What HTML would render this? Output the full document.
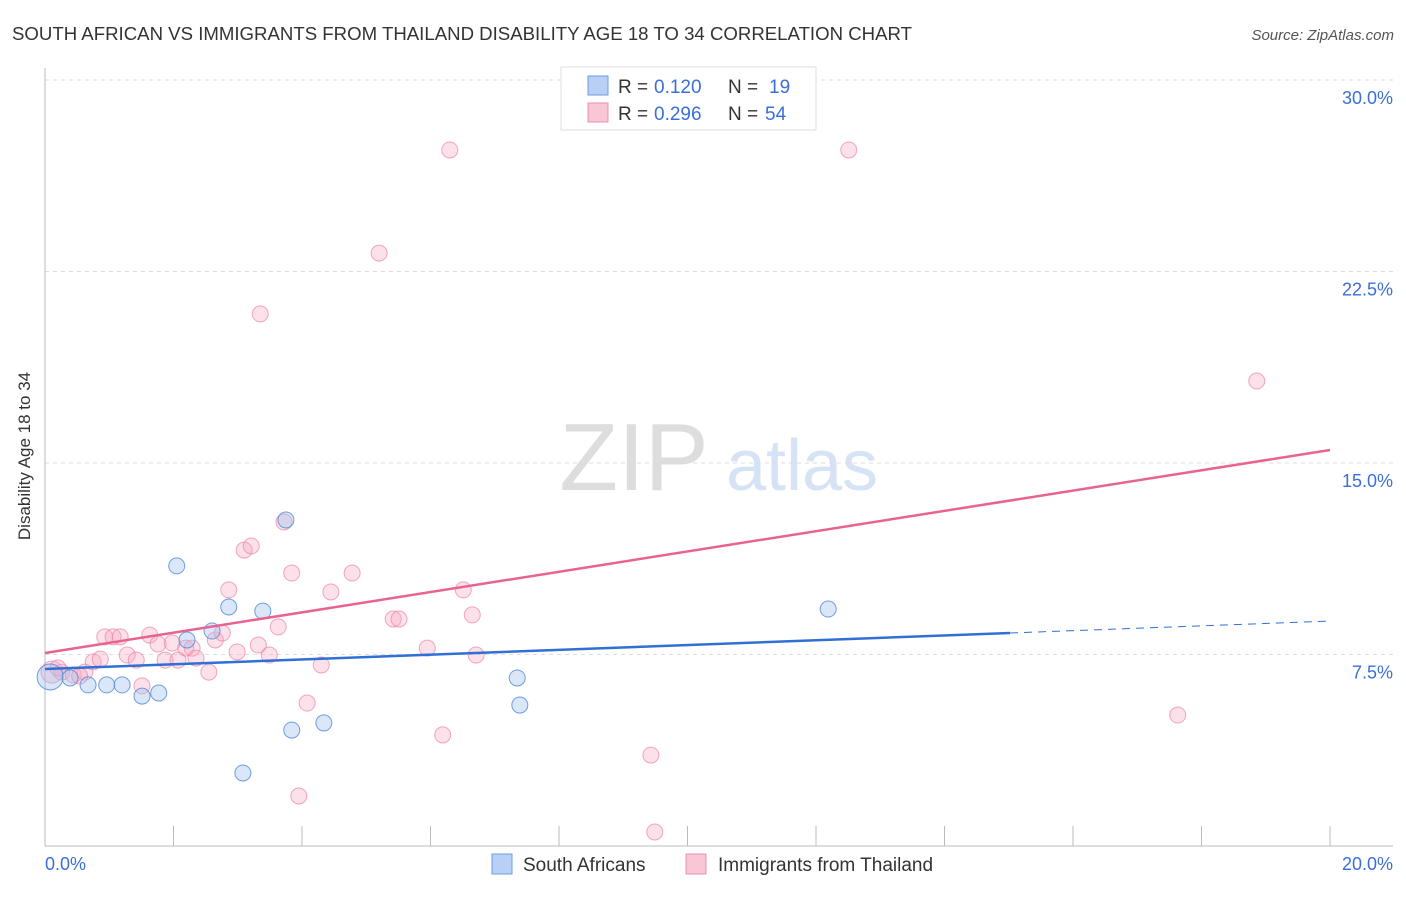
<!DOCTYPE html>
<html><head><meta charset="utf-8"><style>
body{margin:0;background:#fff;font-family:"Liberation Sans",sans-serif}
svg text{font-family:"Liberation Sans",sans-serif}
</style></head><body>
<svg width="1406" height="892">
<text x="12" y="40" font-size="18" fill="#333" textLength="900" lengthAdjust="spacingAndGlyphs">SOUTH AFRICAN VS IMMIGRANTS FROM THAILAND DISABILITY AGE 18 TO 34 CORRELATION CHART</text>
<text x="1394" y="40" font-size="15" fill="#555" font-style="italic" text-anchor="end">Source: ZipAtlas.com</text>
<text x="634" y="490" font-size="96" fill="#ddd" font-family="Liberation Serif" text-anchor="middle">ZIP</text>
<text x="802" y="490" font-size="72" fill="#d5e3f5" text-anchor="middle">atlas</text>
<g id="grid"></g>
<line x1="45" y1="68" x2="45" y2="846" stroke="#bbb"/>
<line x1="45" y1="846" x2="1393" y2="846" stroke="#bbb"/>
<text x="30" y="456" font-size="17" fill="#333" text-anchor="middle" transform="rotate(-90 30 456)">Disability Age 18 to 34</text>
<text x="45" y="870" font-size="18" fill="#3a6fd8">0.0%</text>
<text x="1393" y="870" font-size="18" fill="#3a6fd8" text-anchor="end">20.0%</text>
<g id="marks"></g>
<g>
<rect x="561" y="67" width="255" height="63" fill="#fff" stroke="#ddd"/>
<rect x="588" y="76" width="20" height="19" fill="#b8d0f5" stroke="#6f9be0"/>
<rect x="588" y="103" width="20" height="19" fill="#f9c6d5" stroke="#ec8fae"/>
<text x="618" y="93" font-size="19" fill="#333">R =</text>
<text x="654" y="93" font-size="19" fill="#3a6fd8">0.120</text>
<text x="728" y="93" font-size="19" fill="#333">N =</text>
<text x="769" y="93" font-size="19" fill="#3a6fd8">19</text>
<text x="618" y="120" font-size="19" fill="#333">R =</text>
<text x="654" y="120" font-size="19" fill="#3a6fd8">0.296</text>
<text x="728" y="120" font-size="19" fill="#333">N =</text>
<text x="765" y="120" font-size="19" fill="#3a6fd8">54</text>
</g>
<g>
<rect x="492" y="854" width="20" height="20" fill="#b8d0f5" stroke="#6f9be0"/>
<text x="523" y="871" font-size="19" fill="#333">South Africans</text>
<rect x="686" y="854" width="20" height="20" fill="#f9c6d5" stroke="#ec8fae"/>
<text x="718" y="871" font-size="19" fill="#333">Immigrants from Thailand</text>
</g>
</svg>
<script>
const yTicks=[7.5,15,22.5,30];
const yTickLabels=["7.5%","15.0%","22.5%","30.0%"];
const xTicks=[0,2,4,6,8,10,12,14,16,18,20];
const saX=[0.08,0.39,0.67,0.96,1.20,1.51,1.77,2.05,2.21,2.60,2.86,3.08,3.39,3.75,3.84,4.34,7.35,7.39,12.19];
const saY=[6.62,6.58,6.31,6.31,6.31,5.87,5.99,10.97,8.07,8.42,9.36,2.86,9.20,12.77,4.54,4.82,6.58,5.52,9.28];
const thX=[0.11,0.26,0.44,0.62,0.75,0.86,0.93,1.06,1.17,1.28,1.42,1.51,1.63,1.76,1.87,1.98,2.07,2.19,2.29,2.35,2.55,2.65,2.76,2.86,2.99,3.10,3.21,3.32,3.35,3.49,3.63,3.72,3.84,3.95,4.08,4.30,4.45,4.78,5.20,5.42,5.51,5.95,6.19,6.30,6.51,6.65,6.71,9.43,9.49,12.51,17.63,18.86,0.20,0.54];
const thY=[6.81,6.81,6.70,6.81,7.21,7.32,8.19,8.19,8.19,7.48,7.28,6.27,8.26,7.91,7.28,7.95,7.28,7.75,7.75,7.36,6.81,8.07,8.34,10.03,7.60,11.59,11.75,7.87,20.84,7.48,8.58,12.69,10.69,1.96,5.60,7.09,9.95,10.69,23.22,8.89,8.89,7.75,4.35,27.26,10.03,9.05,7.48,3.56,0.55,27.26,5.13,18.21,6.97,6.66];
const saTrend=[6.93,8.81]; // values at x=0 and x=20
const thTrend=[7.56,15.51];
const sx=v=>45+v/20*1285, sy=v=>846-v/7.5*191.5;
const NS='http://www.w3.org/2000/svg';
function mk(t,a,p){const e=document.createElementNS(NS,t);for(const k in a)e.setAttribute(k,a[k]);p.appendChild(e);return e;}
const grid=document.getElementById('grid'), marks=document.getElementById('marks');
yTicks.forEach((v,i)=>{
 const l=mk('line',{x1:45,x2:1393,y1:sy(v),y2:sy(v),stroke:'#ddd','stroke-dasharray':'4 4'},grid);
 
 
 const t=mk('text',{x:1393,y:sy(v)+24,'font-size':18,fill:'#3a6fd8','text-anchor':'end'},grid);
 t.textContent=yTickLabels[i];
 
 
});
xTicks.forEach(v=>{
 const l=mk('line',{x1:sx(v),x2:sx(v),y1:826,y2:846,stroke:'#bbb'},grid);
 
 
});
thX.forEach((x,i)=>{
 const c=mk('circle',{cx:sx(x),cy:sy(thY[i]),r:i===0?11:8,fill:'rgba(247,170,195,0.35)',stroke:'rgba(236,130,165,0.7)','stroke-width':1},marks);
 
 
});
saX.forEach((x,i)=>{
 const c=mk('circle',{cx:sx(x),cy:sy(saY[i]),r:i===0?13:8,fill:'rgba(160,195,240,0.4)',stroke:'rgba(80,135,215,0.8)','stroke-width':1},marks);
 
 
});
const xEnd=15.02;
const sTrendAt=x=>saTrend[0]+(saTrend[1]-saTrend[0])*x/20;
let l1=mk('line',{x1:sx(0),y1:sy(sTrendAt(0)),x2:sx(xEnd),y2:sy(sTrendAt(xEnd)),stroke:'#2f6fd6','stroke-width':2.5},marks);


let l2=mk('line',{x1:sx(xEnd),y1:sy(sTrendAt(xEnd)),x2:sx(20),y2:sy(saTrend[1]),stroke:'#2f6fd6','stroke-width':1,'stroke-dasharray':'8 6'},marks);


let l3=mk('line',{x1:sx(0),y1:sy(thTrend[0]),x2:sx(20),y2:sy(thTrend[1]),stroke:'#e8638f','stroke-width':2.5},marks);


</script>
</body></html>
